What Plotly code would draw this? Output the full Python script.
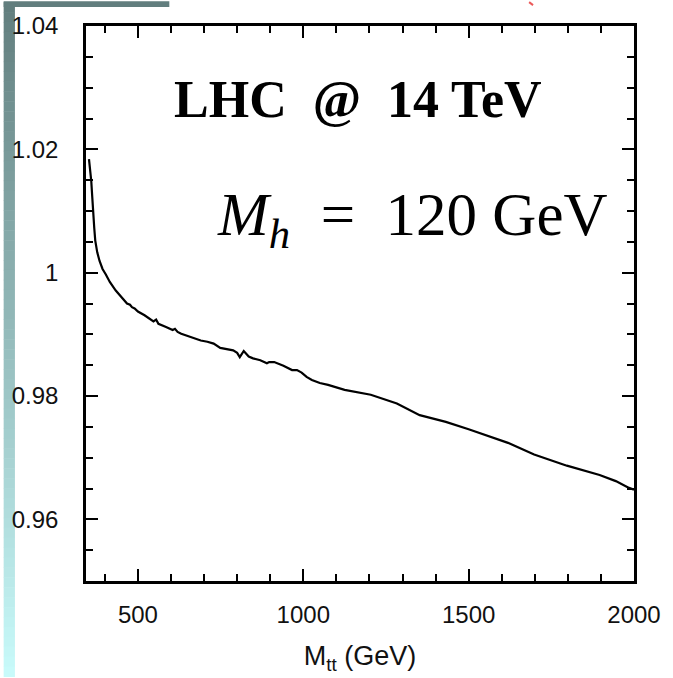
import plotly.graph_objects as go

# ---- data ----
mtt = [352, 354, 357, 359, 362, 364, 368, 371, 377, 384, 393, 403, 415, 433, 450,
       467, 476, 482, 490, 500, 520, 535, 547, 555, 562, 585, 605, 612, 620, 631,
       660, 690, 710, 729, 749, 770, 788, 800, 808, 820, 835, 848, 870, 890, 897,
       912, 940, 966, 981, 995, 1010, 1026, 1050, 1075, 1125, 1204, 1283, 1352,
       1431, 1500, 1619, 1698, 1797, 1896, 1945, 1985, 2000]
ratio = [1.0184, 1.0175, 1.0160, 1.0148, 1.0122, 1.0100, 1.0072, 1.0052, 1.0033,
         1.0019, 1.0006, 0.9997, 0.9985, 0.9971, 0.9961, 0.9950, 0.9948, 0.9944,
         0.9942, 0.9937, 0.9931, 0.9925, 0.9921, 0.9924, 0.9917, 0.9912, 0.9907,
         0.9909, 0.9904, 0.9901, 0.9896, 0.9890, 0.9888, 0.9885, 0.9878, 0.9876,
         0.9874, 0.9870, 0.9863, 0.9873, 0.9864, 0.9861, 0.9858, 0.9853, 0.9855,
         0.9855, 0.9849, 0.9842, 0.9842, 0.9838, 0.9831, 0.9826, 0.9821, 0.9818,
         0.9810, 0.9802, 0.9788, 0.9769, 0.9758, 0.9746, 0.9724, 0.9705, 0.9687,
         0.9672, 0.9662, 0.9651, 0.9648]

x_range = [343, 2000]
y_range = [0.95, 1.04]
x_title = "M<sub>tt</sub> (GeV)"
label_lhc = "<b>LHC&nbsp; @&nbsp; 14 TeV</b>"
label_mh = "<i>M</i><sub><i>h</i></sub>&nbsp; =&nbsp; 120 GeV"

W, H = 673, 678
ML, MR, MT, MB = 83, 31, 24, 96
PW, PH = W - ML - MR, H - MT - MB


def px(xp):
    return (xp - ML) / PW


def py(yp):
    return (H - MB - yp) / PH


fig = go.Figure()
fig.add_trace(go.Scatter(x=mtt, y=ratio, mode="lines",
                         line=dict(color="black", width=2.2), showlegend=False))

axis_common = dict(showline=True, linecolor="black", linewidth=2.5, mirror="allticks",
                   ticks="inside", ticklen=12, tickwidth=2, tickcolor="black",
                   showgrid=False, zeroline=False,
                   tickfont=dict(family="Liberation Sans, Arial", size=24, color="#111"))

fig.update_xaxes(range=x_range, tick0=0, dtick=500, ticklabelstandoff=10,
                 minor=dict(ticks="inside", dtick=100, ticklen=7, tickwidth=2, tickcolor="black"),
                 title=dict(text=x_title, font=dict(family="Liberation Sans, Arial", size=27, color="#111"),
                            standoff=20),
                 **axis_common)
fig.update_yaxes(range=y_range, tick0=0, dtick=0.02, ticklabelstandoff=20,
                 minor=dict(ticks="inside", dtick=0.005, ticklen=7, tickwidth=2, tickcolor="black"),
                 **axis_common)

# decorative slide background: left gradient strip and top dark band
shapes = []
N = 68
top = (98, 126, 126)
bot = (200, 250, 250)
for i in range(N):
    t = i / (N - 1)
    c = tuple(round(top[k] + (bot[k] - top[k]) * t) for k in range(3))
    y0 = i * H / N
    y1 = (i + 1) * H / N + 0.5
    shapes.append(dict(type="rect", xref="paper", yref="paper",
                       x0=px(-1), x1=px(10.5), y0=py(y1), y1=py(y0),
                       fillcolor="rgb(%d,%d,%d)" % c, line=dict(width=0), layer="below"))
shapes.append(dict(type="rect", xref="paper", yref="paper",
                   x0=px(-1), x1=px(168), y0=py(5), y1=py(-1),
                   fillcolor="rgb(98,126,126)", line=dict(width=0), layer="below"))
shapes.append(dict(type="line", xref="paper", yref="paper",
                   x0=px(535), x1=px(539), y0=py(0), y1=py(3),
                   line=dict(color="rgb(235,90,90)", width=2)))

annotations = [
    dict(text=label_lhc, xref="paper", yref="paper", x=px(360), y=py(98),
         xanchor="center", yanchor="middle", showarrow=False,
         font=dict(family="Liberation Serif, Times New Roman", size=52, color="black")),
    dict(text=label_mh, xref="paper", yref="paper", x=px(416), y=py(218),
         xanchor="center", yanchor="middle", showarrow=False,
         font=dict(family="Liberation Serif, Times New Roman", size=61, color="black")),
]

fig.update_layout(width=W, height=H, margin=dict(l=ML, r=MR, t=MT, b=MB),
                  paper_bgcolor="white", plot_bgcolor="white",
                  shapes=shapes, annotations=annotations, showlegend=False)

fig.write_html("out.html")
